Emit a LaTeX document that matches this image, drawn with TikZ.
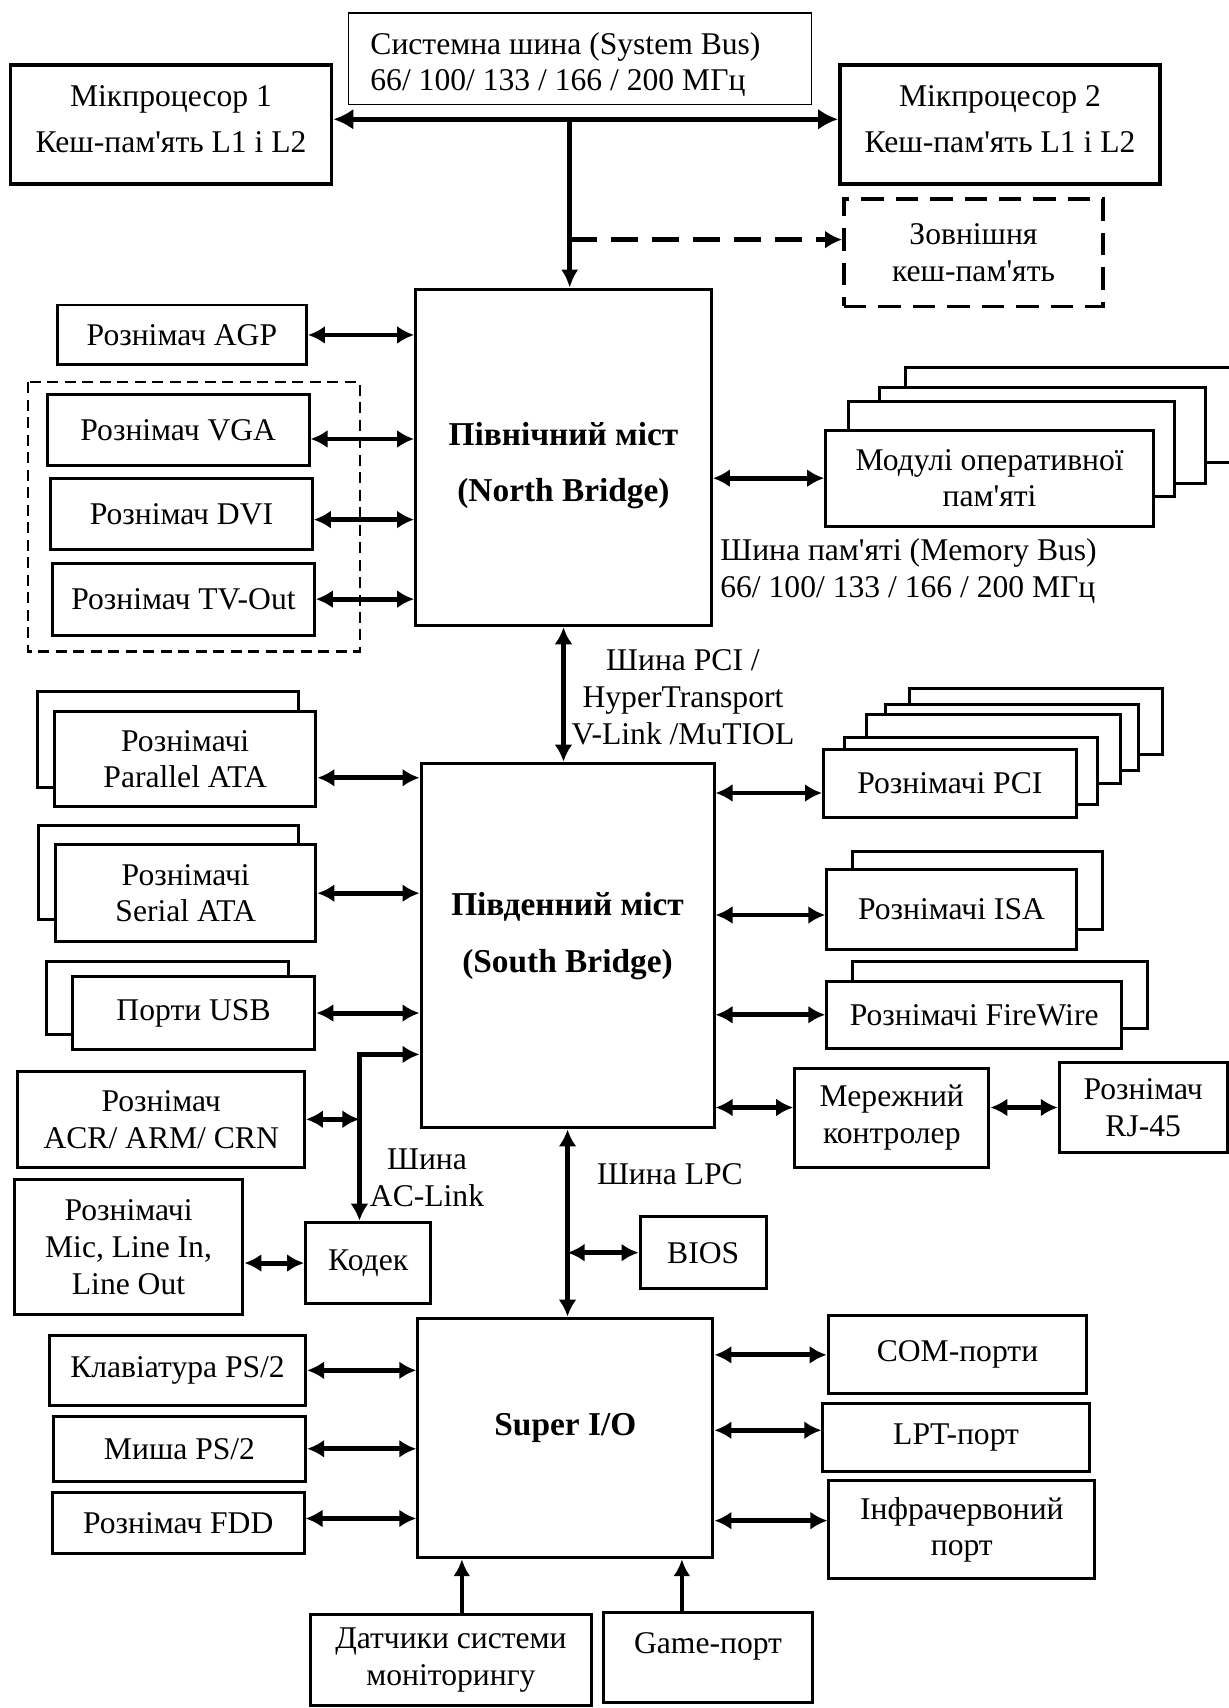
\documentclass[tikz,border=0pt]{standalone}
\usepackage{fontspec}
\newfontfamily\ukrfont{Liberation Serif}
\usetikzlibrary{arrows.meta}

\tikzset{
  box/.style={draw, line width=1.7pt, align=center, inner sep=2pt, fill=white},
  sz/.style 2 args={minimum width=#1*0.218mm, minimum height=#2*0.218mm},
  chip/.style={draw, line width=1.7pt, align=center, font=\ukrfont\fontsize{19}{21}\selectfont\bfseries},
  extbox/.style={box, line width=2pt, dash pattern=on 4.5mm off 2.4mm},
  grp/.style={line width=1.3pt, dash pattern=on 2.2mm off 1.3mm},
  dbl/.style={line width=2.8pt, {Latex[length=3.4mm,width=3.6mm]}-{Latex[length=3.4mm,width=3.6mm]}},
  one/.style={line width=2.5pt, -{Latex[length=3.4mm,width=3.4mm]}},
  busline/.style={line width=3pt},
}

\begin{document}
\begin{tikzpicture}[x=0.218mm, y=-0.218mm, font=\ukrfont\fontsize{18}{21}\selectfont]
	\useasboundingbox (0,0) rectangle (1128,1568);

	% system bus and processors
	\node[box, line width=1pt, sz={425}{84}, align=flush left, text width=83.9mm, inner xsep=4.36mm] (sysbus) at (532.5,54) {\rule{0pt}{19pt}Системна шина (System Bus)\\66/ 100/ 133 / 166 / 200 МГц};
	\node[box, line width=2pt, sz={295}{109}] (cpuA) at (157,114.4) {Мікпроцесор 1\\[5pt]Кеш-пам'ять L1 і L2\rule[-6pt]{0pt}{0pt}};
	\node[box, line width=2pt, sz={294}{109}] (cpuB) at (918,114.4) {Мікпроцесор 2\\[5pt]Кеш-пам'ять L1 і L2\rule[-6pt]{0pt}{0pt}};
	\node[extbox, sz={238}{98.5}] (ext) at (893.7,232) {Зовнішня\\кеш-пам'ять};

	\node[chip, sz={271.5}{309}] (nb) at (517.3,420) {\rule{0pt}{22pt}Північний міст\\[11pt](North Bridge)};

	\coordinate (busj) at (523,109.5);
	\coordinate (cachej) at (523,220);
	\draw[busline, {Latex[length=4mm,width=4.2mm]}-{Latex[length=4mm,width=4.2mm]}] (cpuA.east |- busj) -- (cpuB.west |- busj);
	\draw[busline, -{Latex[length=3.6mm,width=3.4mm]}] (busj) -- (busj |- nb.north);
	\draw[line width=2.6pt, dash pattern=on 5.5mm off 2.7mm, -{Latex[length=3.4mm,width=3.6mm]}] (cachej) -- (cachej -| ext.west);

	% north bridge, left side
	\node[box, sz={228.7}{55}] (agp) at (167,307.5) {Рознімач AGP};
	\draw[grp] (25.4,351) rectangle (330.3,598);
	\node[box, sz={240.3}{65}] (vga) at (163.6,395) {Рознімач VGA};
	\node[box, sz={240.2}{65}] (dvi) at (166.6,472) {Рознімач DVI};
	\node[box, sz={240.3}{66}] (tv) at (168.4,550) {Рознімач TV-Out};

	\draw[dbl] (agp.east) -- (agp.east -| nb.west);
	\draw[dbl] (vga.east |- 0,403) -- (nb.west |- 0,403);
	\draw[dbl] (dvi.east |- 0,477) -- (nb.west |- 0,477);
	\draw[dbl] (tv.east) -- (tv.east -| nb.west);

	% memory modules
	\node[box, sz={300}{88}] (memD) at (981,381) {};
	\node[box, sz={300}{88}] (memC) at (957,399.5) {};
	\node[box, sz={300}{87}] (memB) at (928.6,412.3) {};
	\node[box, sz={301}{88}] (mem) at (908.5,439) {Модулі оперативної\\пам'яті};
	\draw[dbl] (nb.east |- mem) -- (mem.west);
	\node[anchor=west, align=left, inner sep=0pt] (membus) at (661,524) {Шина пам'яті (Memory Bus)\\66/ 100/ 133 / 166 / 200 МГц};

	% south bridge
	\node[chip, sz={269}{335}] (sb) at (521,868) {Південний міст\\[11pt](South Bridge)\rule[-15pt]{0pt}{0pt}};
	\draw[dbl] (nb.south) -- (nb.south |- sb.north);
	\node[align=center] (pcibus) at (627,640) {Шина PCI /\\HyperTransport\\V-Link /MuTIOL};

	\node[box, sz={240}{88.5}] (ataPb) at (154,679) {};
	\node[box, sz={240}{87.5}] (ataP) at (170,697) {Рознімачі\\Parallel ATA};
	\node[box, sz={239}{86.5}] (ataSb) at (154.5,801) {};
	\node[box, sz={239}{88.7}] (ataS) at (170.5,820) {Рознімачі\\Serial ATA};
	\node[box, sz={222}{67.3}] (usbb) at (154,916.4) {};
	\node[box, sz={222.6}{67.3}] (usb) at (177.7,930) {Порти USB};
	\node[box, sz={263}{88}] (acr) at (148,1027.5) {Рознімач\\ACR/ ARM/ CRN};
	\node[box, sz={210}{124}] (mic) at (118,1145) {Рознімачі\\Mic, Line In,\\Line Out};
	\node[box, sz={115}{75}] (codec) at (338,1159.5) {Кодек};

	\draw[dbl] (ataP.east |- 0,714) -- (sb.west |- 0,714);
	\draw[dbl] (ataS.east) -- (ataS.east -| sb.west);
	\draw[dbl] (usb.east) -- (usb.east -| sb.west);

	\coordinate (acj) at (330,968);
	\draw[dbl] (acj -| sb.west) -- (acj) -- (acj |- codec.north);
	\draw[dbl] (acr.east) -- (acr.east -| acj);
	\draw[dbl] (mic.east |- codec) -- (codec.west);
	\node[align=center] (aclabel) at (392,1081) {Шина\\AC-Link};

	% south bridge, right side
	\node[box, sz={232}{61}] (pciE) at (950.8,662.4) {};
	\node[box, sz={232}{61}] (pciD) at (929,676.8) {};
	\node[box, sz={233}{63}] (pciC) at (911.8,687.7) {};
	\node[box, sz={232}{62}] (pciB) at (891.6,707.9) {};
	\node[box, sz={232}{62}] (pci) at (872,719.4) {Рознімачі PCI};
	\node[box, sz={229.6}{72}] (isab) at (897,817.7) {};
	\node[box, sz={229}{73}] (isa) at (873.5,835) {Рознімачі ISA};
	\node[box, sz={271}{61.2}] (fwb) at (917.7,913.3) {};
	\node[box, sz={270.6}{61.2}] (fw) at (894.3,931.6) {Рознімачі FireWire};
	\node[box, sz={178.3}{91}] (net) at (818.7,1026) {Мережний\\контролер};
	\node[box, sz={154}{82.6}] (rj) at (1049.5,1016.7) {Рознімач\\RJ-45};

	\draw[dbl] (sb.east |- 0,728) -- (pci.west |- 0,728);
	\draw[dbl] (sb.east |- 0,840) -- (isa.west |- 0,840);
	\draw[dbl] (sb.east |- fw) -- (fw.west);
	\draw[dbl] (sb.east |- rj) -- (net.west |- rj);
	\draw[dbl] (net.east |- rj) -- (rj.west);

	% LPC and super i/o
	\node[box, sz={116}{66}] (bios) at (645.6,1150) {BIOS};
	\node[chip, sz={271}{220}] (sio) at (519,1320) {Super I/O\rule[-15pt]{0pt}{0pt}};
	\draw[dbl] (sb.south) -- (sb.south |- sio.north);
	\draw[dbl] (bios.west -| sb.south) -- (bios.west);
	\node (lpclabel) at (615,1078) {Шина LPC};

	\node[box, sz={235}{64}] (kbd) at (163,1258) {Клавіатура PS/2};
	\node[box, sz={231.5}{60}] (mouse) at (164.8,1330) {Миша PS/2};
	\node[box, sz={231}{56}] (fdd) at (163.6,1398.5) {Рознімач FDD};
	\node[box, sz={237.4}{71.5}] (com) at (879,1243.8) {COM-порти};
	\node[box, sz={244.7}{62}] (lpt) at (877.7,1319.8) {LPT-порт};
	\node[box, sz={244}{90}] (ir) at (883,1404.5) {Інфрачервоний\\порт};

	\draw[dbl] (kbd.east) -- (kbd.east -| sio.west);
	\draw[dbl] (mouse.east) -- (mouse.east -| sio.west);
	\draw[dbl] (fdd.east |- 0,1394) -- (sio.west |- 0,1394);
	\draw[dbl] (sio.east |- com) -- (com.west);
	\draw[dbl] (sio.east |- 0,1313) -- (lpt.west |- 0,1313);
	\draw[dbl] (sio.east |- 0,1396) -- (ir.west |- 0,1396);

	\node[box, sz={258}{84}] (sens) at (414,1524) {Датчики системи\\моніторингу};
	\node[box, sz={192}{82.5}] (game) at (650,1522) {Game-порт\rule[-17pt]{0pt}{0pt}};
	\draw[one] (sens.north -| 424,0) -- (sio.south -| 424,0);
	\draw[one] (game.north -| 626,0) -- (sio.south -| 626,0);
\end{tikzpicture}
\end{document}
